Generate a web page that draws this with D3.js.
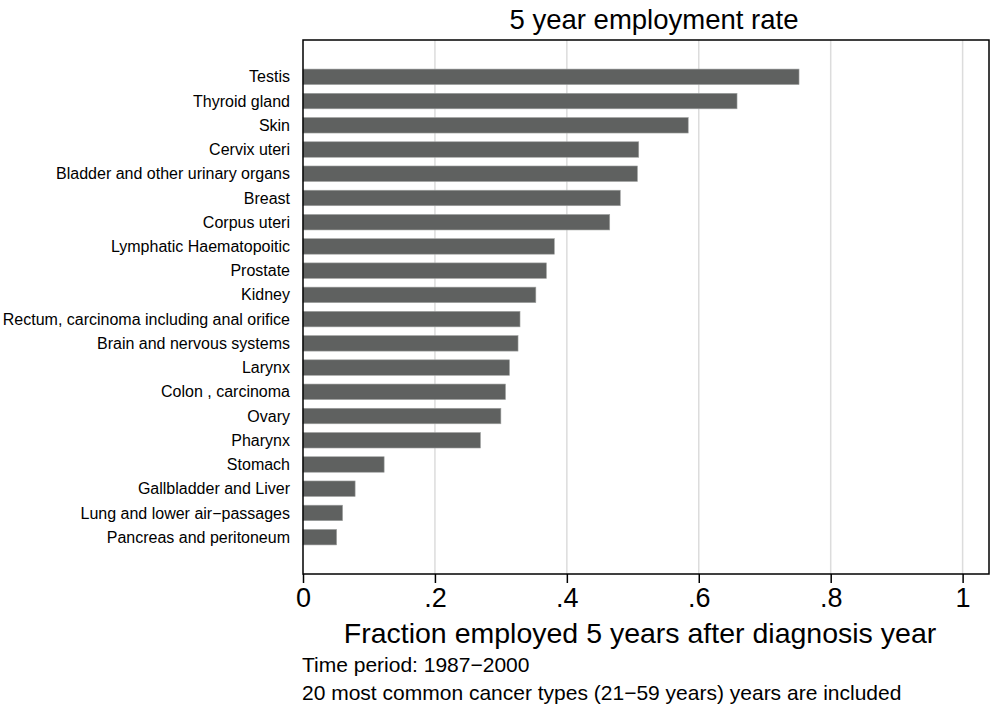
<!DOCTYPE html>
<html>
<head>
<meta charset="utf-8">
<script src="https://cdn.jsdelivr.net/npm/d3@7"></script>
<style>
  body { margin: 0; background: #fff; }
  svg { font-family: "Liberation Sans", Arial, Helvetica, sans-serif; }
</style>
</head>
<body>
<script>
// cancer types, top to bottom
var categories = [
  "Testis", "Thyroid gland", "Skin", "Cervix uteri",
  "Bladder and other urinary organs", "Breast", "Corpus uteri",
  "Lymphatic Haematopoitic", "Prostate", "Kidney",
  "Rectum, carcinoma including anal orifice", "Brain and nervous systems",
  "Larynx", "Colon , carcinoma", "Ovary", "Pharynx", "Stomach",
  "Gallbladder and Liver", "Lung and lower air\u2212passages", "Pancreas and peritoneum"
];
// fraction employed 5 years after diagnosis
var values = [
  0.752, 0.658, 0.584, 0.509, 0.507, 0.481, 0.465, 0.381, 0.369, 0.353,
  0.329, 0.326, 0.313, 0.307, 0.300, 0.269, 0.123, 0.079, 0.060, 0.051
];
var xTicks = [0, 0.2, 0.4, 0.6, 0.8, 1];
var title = "5 year employment rate";
var xTitle = "Fraction employed 5 years after diagnosis year";
var notes = ["Time period: 1987\u22122000",
  "20 most common cancer types (21\u221259 years) years are included"];

var width = 990, height = 713;
var margin = {top: 40, right: 1, bottom: 139, left: 303};

var svg = d3.select("body").append("svg")
    .attr("width", width)
    .attr("height", height);

var x = d3.scaleLinear()
    .domain([0, 1.04])
    .range([margin.left, width - margin.right]);

var y = d3.scaleBand()
    .domain(categories)
    .range([margin.top, height - margin.bottom])
    .paddingInner(0.36)
    .paddingOuter(1.2);

// gridlines
svg.append("g")
  .selectAll("line")
  .data(xTicks.filter(function(d) { return d > 0; }))
  .enter().append("line")
    .attr("x1", function(d) { return x(d); })
    .attr("x2", function(d) { return x(d); })
    .attr("y1", margin.top)
    .attr("y2", height - margin.bottom)
    .attr("stroke", "#dcdcdc")
    .attr("stroke-width", 1.5);

// bars
svg.append("g")
  .selectAll("rect")
  .data(values)
  .enter().append("rect")
    .attr("x", x(0))
    .attr("y", function(d, i) { return y(categories[i]); })
    .attr("width", function(d) { return x(d) - x(0); })
    .attr("height", y.bandwidth())
    .attr("fill", "#5f6160")
    .attr("stroke", "#a0a2a1")
    .attr("stroke-width", 0.6);

// category labels
svg.append("g")
  .selectAll("text")
  .data(categories)
  .enter().append("text")
    .attr("x", 290)
    .attr("y", function(d) { return y(d) + y.bandwidth() / 2; })
    .attr("dy", "0.35em")
    .attr("text-anchor", "end")
    .attr("font-size", 16)
    .attr("fill", "#000")
    .text(function(d) { return d; });

// plot box
svg.append("rect")
    .attr("x", margin.left)
    .attr("y", margin.top)
    .attr("width", width - margin.right - margin.left)
    .attr("height", height - margin.bottom - margin.top)
    .attr("fill", "none")
    .attr("stroke", "#000")
    .attr("stroke-width", 1.5);

// x axis
var xAxis = svg.append("g")
    .attr("transform", "translate(0," + (height - margin.bottom) + ")")
    .call(d3.axisBottom(x)
      .tickValues(xTicks)
      .tickSize(9)
      .tickPadding(5)
      .tickFormat(function(d) { return d === 0 || d === 1 ? String(d) : d3.format(".1f")(d).replace(/^0/, ""); }));
xAxis.select(".domain").remove();
xAxis.selectAll(".tick line").attr("stroke", "#000").attr("stroke-width", 1.5);
xAxis.selectAll(".tick text")
    .attr("font-size", 27)
    .attr("font-family", "Liberation Sans, Arial, sans-serif")
    .attr("fill", "#000");

// titles
svg.append("text")
    .attr("x", 654).attr("y", 29)
    .attr("text-anchor", "middle")
    .attr("font-size", 27.5)
    .text(title);

svg.append("text")
    .attr("x", 640).attr("y", 643)
    .attr("text-anchor", "middle")
    .attr("font-size", 28.5)
    .text(xTitle);

svg.append("g")
  .selectAll("text")
  .data(notes)
  .enter().append("text")
    .attr("x", 302)
    .attr("y", function(d, i) { return 672 + i * 28; })
    .attr("font-size", 21)
    .text(function(d) { return d; });
</script>
</body>
</html>
